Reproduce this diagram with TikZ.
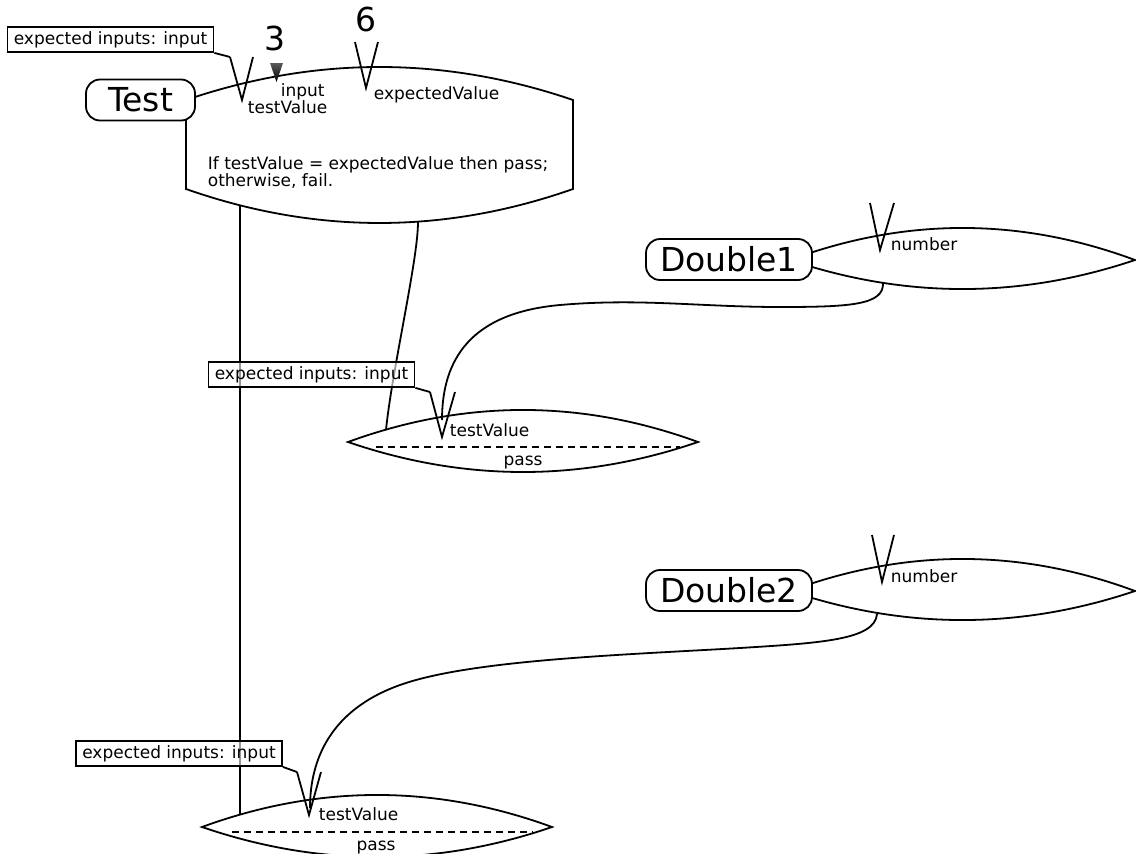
\documentclass[tikz,border=0pt]{standalone}
\usepackage{fontspec}
\setmainfont{DejaVu Sans}
\begin{document}
\begin{tikzpicture}[x=1pt,y=-1pt,
  line width=1.8pt,
  outline/.style={draw=black, line width=1.8pt, fill=white},
  wire/.style={draw=black, line width=1.8pt},
  vpin/.style={draw=black, line width=1.8pt, line join=miter},
  blockname/.style={draw, line width=1.8pt, rounded corners=14pt, fill=white,
    inner sep=0pt, minimum height=41pt, font=\fontsize{33}{36}\selectfont},
  hint/.style={draw, line width=1.8pt, fill=white, fill opacity=0.6, text opacity=1,
    inner sep=0pt, minimum width=206pt, minimum height=25pt,
    font=\fontsize{17}{17}\selectfont},
  note/.style={inner sep=0pt, anchor=base west, font=\fontsize{17}{16.5}\selectfont},
  bignum/.style={inner sep=0pt, anchor=base, font=\fontsize{33}{36}\selectfont},
]
\fill[white] (0,0) rectangle (1136,854);
\useasboundingbox (0,0) rectangle (1136,854);

% ---------- Test block ----------
\draw[outline] (186,100) .. controls (315,56) and (444,56) .. (573,100)
  -- (573,189) .. controls (444,234.3) and (315,234.3) .. (186,189) -- cycle;
\node[blockname, minimum width=109pt] (test) at (140.5,100) {Test};
\node[note, anchor=north west, align=left] (rule) at (207,156)
  {If testValue = expectedValue then pass;\\otherwise, fail.};

% pins of the Test block
\coordinate (tv-l) at (230,57);
\coordinate (tv-b) at (242,100);
\coordinate (tv-r) at (253,57);
\draw[vpin] (tv-l) -- (tv-b) -- (tv-r);
\coordinate (ev-l) at (355,42);
\coordinate (ev-b) at (366,88);
\coordinate (ev-r) at (378,42);
\draw[vpin] (ev-l) -- (ev-b) -- (ev-r);
\shade[top color=gray!70!black, bottom color=black] (270,63) -- (283,63) -- (276.5,82) -- cycle;
\node[note] (tv-txt) at (247,113.5) {testValue};
\node[note] (in-txt) at (280,96) {input};
\node[note] (ev-txt) at (373,99.5) {expectedValue};
\node[bignum] (three) at (275,50) {3};
\node[bignum] (six) at (365.5,31.5) {6};

% ---------- Double blocks ----------
\draw[outline] (790,260) .. controls (905,217.3) and (1020,217.3) .. (1135,260)
  .. controls (1020,298.7) and (905,298.7) .. (790,260) -- cycle;
\node[blockname, minimum width=166pt] (d1) at (729,259.5) {Double1};
\coordinate (d1-l) at (870,203);
\coordinate (d1-b) at (880,250);
\coordinate (d1-r) at (894,203);
\draw[vpin] (d1-l) -- (d1-b) -- (d1-r);
\node[note] (d1-txt) at (890,250) {number};

\draw[outline] (790,591) .. controls (905,548.3) and (1020,548.3) .. (1135,591)
  .. controls (1020,629.7) and (905,629.7) .. (790,591) -- cycle;
\node[blockname, minimum width=166pt] (d2) at (729,590.5) {Double2};
\coordinate (d2-l) at (872,535);
\coordinate (d2-b) at (882,582);
\coordinate (d2-r) at (894,535);
\draw[vpin] (d2-l) -- (d2-b) -- (d2-r);
\node[note] (d2-txt) at (890,582) {number};

% ---------- pass blocks ----------
\draw[outline] (348,442) .. controls (464.7,399.3) and (581.3,399.3) .. (698,442)
  .. controls (581.3,482) and (464.7,482) .. (348,442) -- cycle;
\draw[line width=1.8pt, dash pattern=on 7pt off 5pt] (376,447) -- (680,447);
\node[note] (p1-txt) at (449,436) {testValue};
\node[note, anchor=base] (p1-pass) at (523,465) {pass};

\draw[outline] (202,827) .. controls (318.7,784.3) and (435.3,784.3) .. (552,827)
  .. controls (435.3,867) and (318.7,867) .. (202,827) -- cycle;
\draw[line width=1.8pt, dash pattern=on 7pt off 5pt] (232,832) -- (533,832);
\node[note] (p2-txt) at (318,820) {testValue};
\node[note, anchor=base] (p2-pass) at (376,850.5) {pass};

% ---------- connectors ----------
\coordinate (t-o1) at (240,205);
\coordinate (p2-in) at (240,814.6);
\draw[wire] (t-o1) -- (p2-in);
\coordinate (t-o2) at (418,222);
\coordinate (p1-in) at (386,430);
\draw[wire] (t-o2) .. controls (418,260) and (392,370) .. (p1-in);

\coordinate (d1-o) at (883,283);
\coordinate (p1v-b) at (442,437);
\draw[wire] (d1-o) .. controls (884,305) and (850,307) .. (780,307)
  .. controls (700,307) and (640,298) .. (560,305)
  .. controls (470,313) and (442,360) .. (442,420);

\coordinate (d2-o) at (877,614);
\coordinate (p2v-b) at (309,815);
\draw[wire] (d2-o) .. controls (875,640) and (820,643) .. (740,648)
  .. controls (620,655) and (470,660) .. (400,685)
  .. controls (330,710) and (310,760) .. (310,808);

% pins of the pass blocks
\coordinate (p1v-l) at (430,392);
\coordinate (p1v-r) at (455,392);
\draw[vpin] (p1v-l) -- (p1v-b) -- (p1v-r);
\coordinate (p2v-l) at (297,772);
\coordinate (p2v-r) at (321,772);
\draw[vpin] (p2v-l) -- (p2v-b) -- (p2v-r);

% ---------- expected-input hints ----------
\node[hint] (h1) at (110.5,39.5) {expected inputs: input};
\draw[line width=1.8pt] (h1.south east) -- (tv-l);
\node[hint] (h2) at (311.5,374.5) {expected inputs: input};
\draw[line width=1.8pt] (h2.south east) -- (p1v-l);
\node[hint] (h3) at (179,753.5) {expected inputs: input};
\draw[line width=1.8pt] (h3.south east) -- (p2v-l);
\end{tikzpicture}
\end{document}
